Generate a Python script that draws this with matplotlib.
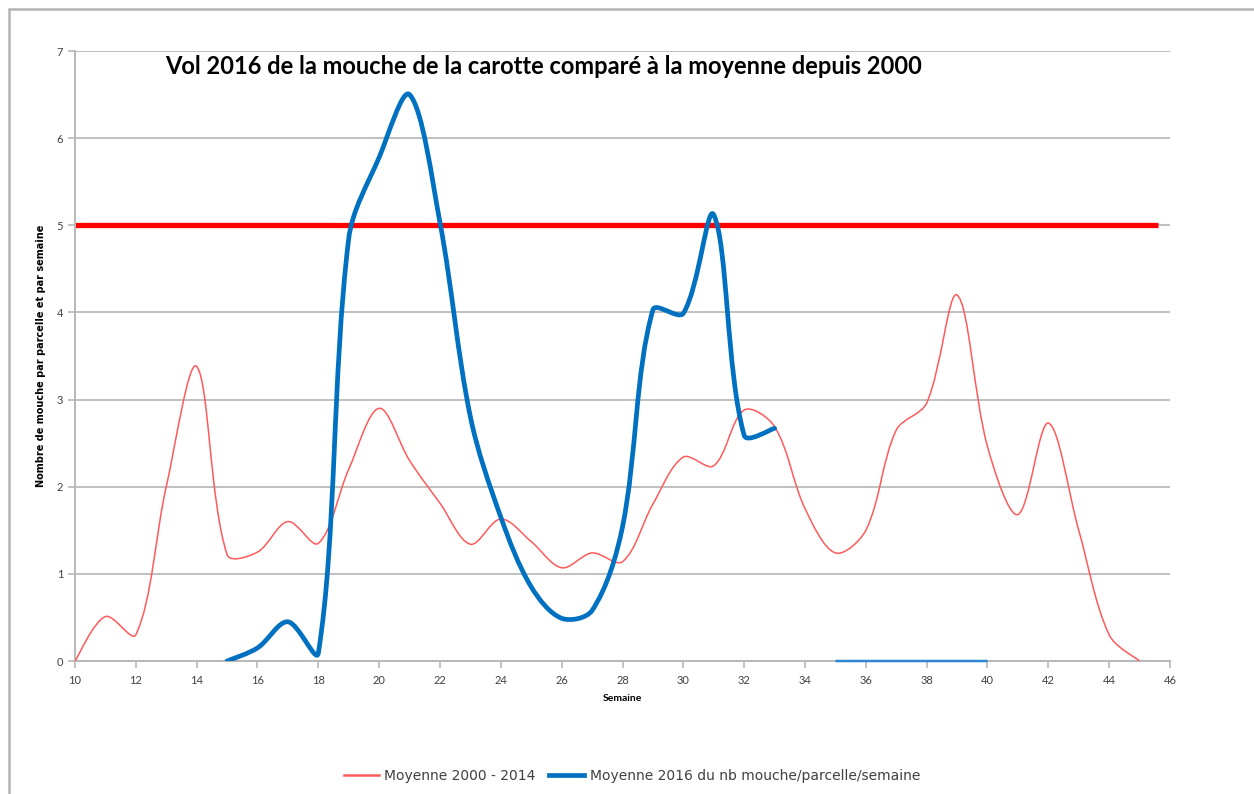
import matplotlib
matplotlib.use("Agg")
import matplotlib.pyplot as plt
from matplotlib.path import Path
from matplotlib.patches import PathPatch, Rectangle
from matplotlib.lines import Line2D
import numpy as np

plt.rcParams['font.family'] = ['Lato', 'DejaVu Sans']

# Moyenne 2000 - 2014, semaines 10 a 45
weeks_avg = list(range(10, 46))
avg_2000_2014 = [0.0, 0.51, 0.30, 2.0, 3.38, 1.22, 1.25, 1.6, 1.35, 2.2,
                 2.9, 2.3, 1.81, 1.34, 1.63, 1.37, 1.07, 1.24, 1.14, 1.8,
                 2.34, 2.24, 2.88, 2.69, 1.75, 1.24, 1.5, 2.65, 2.96, 4.2,
                 2.46, 1.68, 2.73, 1.5, 0.3, 0.0]

# Moyenne 2016, semaines 15 a 33 puis 35 a 40
weeks_2016 = list(range(15, 34))
avg_2016 = [0.0, 0.15, 0.45, 0.09, 4.85, 5.78, 6.5, 5.03, 2.8, 1.65,
            0.85, 0.49, 0.58, 1.54, 4.03, 3.99, 5.12, 2.59, 2.67]
weeks_2016_late = list(range(35, 41))
avg_2016_late = [0, 0, 0, 0, 0, 0]

# seuil
threshold = 5
threshold_weeks = [10, 45.6]

RED = "#ff5a5a"
BLUE = "#0070c0"

# pixels par unite (pour le lissage)
SX, SY = 1095 / 36, 610 / 7


def smooth_path(x, y):
    # courbe lissee facon Excel : Bezier, tangente ponderee par longueur des segments
    pts = np.column_stack([x, y]).astype(float)
    n = len(pts)
    scale = np.array([SX, SY])

    def seglen(a, b):
        return np.hypot(*((b - a) * scale)) + 1e-9

    verts = [pts[0]]
    codes = [Path.MOVETO]
    for i in range(n - 1):
        p0 = pts[max(i - 1, 0)]
        p1 = pts[i]
        p2 = pts[i + 1]
        p3 = pts[min(i + 2, n - 1)]
        l01, l12, l23 = seglen(p0, p1), seglen(p1, p2), seglen(p2, p3)
        if i == 0:
            l01 = l12
        if i + 2 > n - 1:
            l23 = l12
        c1 = p1 + (p2 - p0) * l12 / (3 * (l01 + l12))
        c2 = p2 - (p3 - p1) * l12 / (3 * (l12 + l23))
        verts += [c1, c2, p2]
        codes += [Path.CURVE4] * 3
    return Path(verts, codes)


fig = plt.figure(figsize=(12.54, 7.94), dpi=100)
fig.patches.append(Rectangle((9 / 1254, -0.01), 1.02, 1 - 9 / 794 + 0.01,
                             transform=fig.transFigure, fill=False,
                             edgecolor="#b4b4b4", linewidth=1.8))

ax = fig.add_axes([75 / 1254, 133 / 794, 1095 / 1254, 610 / 794])

ax.add_patch(PathPatch(smooth_path(weeks_avg, avg_2000_2014), facecolor="none",
                       edgecolor=RED, linewidth=1.1, zorder=3))
ax.add_patch(PathPatch(smooth_path(weeks_2016, avg_2016), facecolor="none",
                       edgecolor=BLUE, linewidth=3.4, zorder=4,
                       capstyle="round", joinstyle="round"))
ax.add_patch(PathPatch(smooth_path(weeks_2016_late, avg_2016_late), facecolor="none",
                       edgecolor="#2f86d0", linewidth=1.8, zorder=5, clip_on=False))
ax.plot(threshold_weeks, [threshold, threshold], color="#ff0000", linewidth=3.8,
        solid_capstyle="butt", zorder=2)

ax.set_xlim(10, 46)
ax.set_ylim(0, 7)
ax.set_xticks(range(10, 47, 2))
ax.set_yticks(range(0, 8))
ax.grid(axis="y", color="#c0c0c0", linewidth=1.4)
ax.set_axisbelow(True)
for s in ["top", "right"]:
    ax.spines[s].set_visible(False)
for s in ["left", "bottom"]:
    ax.spines[s].set_color("#b8b8b8")
    ax.spines[s].set_linewidth(1.4)
ax.tick_params(axis="both", colors="#b8b8b8", labelcolor="#404040",
               labelsize=8, length=5, width=1.2)
ax.tick_params(axis="x", pad=5)

ax.set_xlabel("Semaine", fontsize=7.5, fontweight="bold", labelpad=6)
ax.set_ylabel("Nombre de mouche par parcelle et par semaine", fontsize=7,
              fontweight="bold", family="DejaVu Sans", labelpad=8)

fig.text(165 / 1254, 1 - 66 / 794,
         "Vol 2016 de la mouche de la carotte comparé à la moyenne depuis 2000",
         fontsize=17, fontweight="bold", va="center", ha="left", color="#000000")

handles = [Line2D([], [], color=RED, linewidth=1.8),
           Line2D([], [], color=BLUE, linewidth=3.4)]
labels = ["Moyenne 2000 - 2014", "Moyenne 2016 du nb mouche/parcelle/semaine"]
leg = fig.legend(handles, labels, loc="center", bbox_to_anchor=(0.504, 1 - 776 / 794),
                 ncol=2, frameon=False, handlelength=2.5,
                 prop={"family": "DejaVu Sans", "size": 10},
                 handletextpad=0.4, columnspacing=1.0)
for t in leg.get_texts():
    t.set_color("#404040")

fig.savefig("out.png", dpi=100)
